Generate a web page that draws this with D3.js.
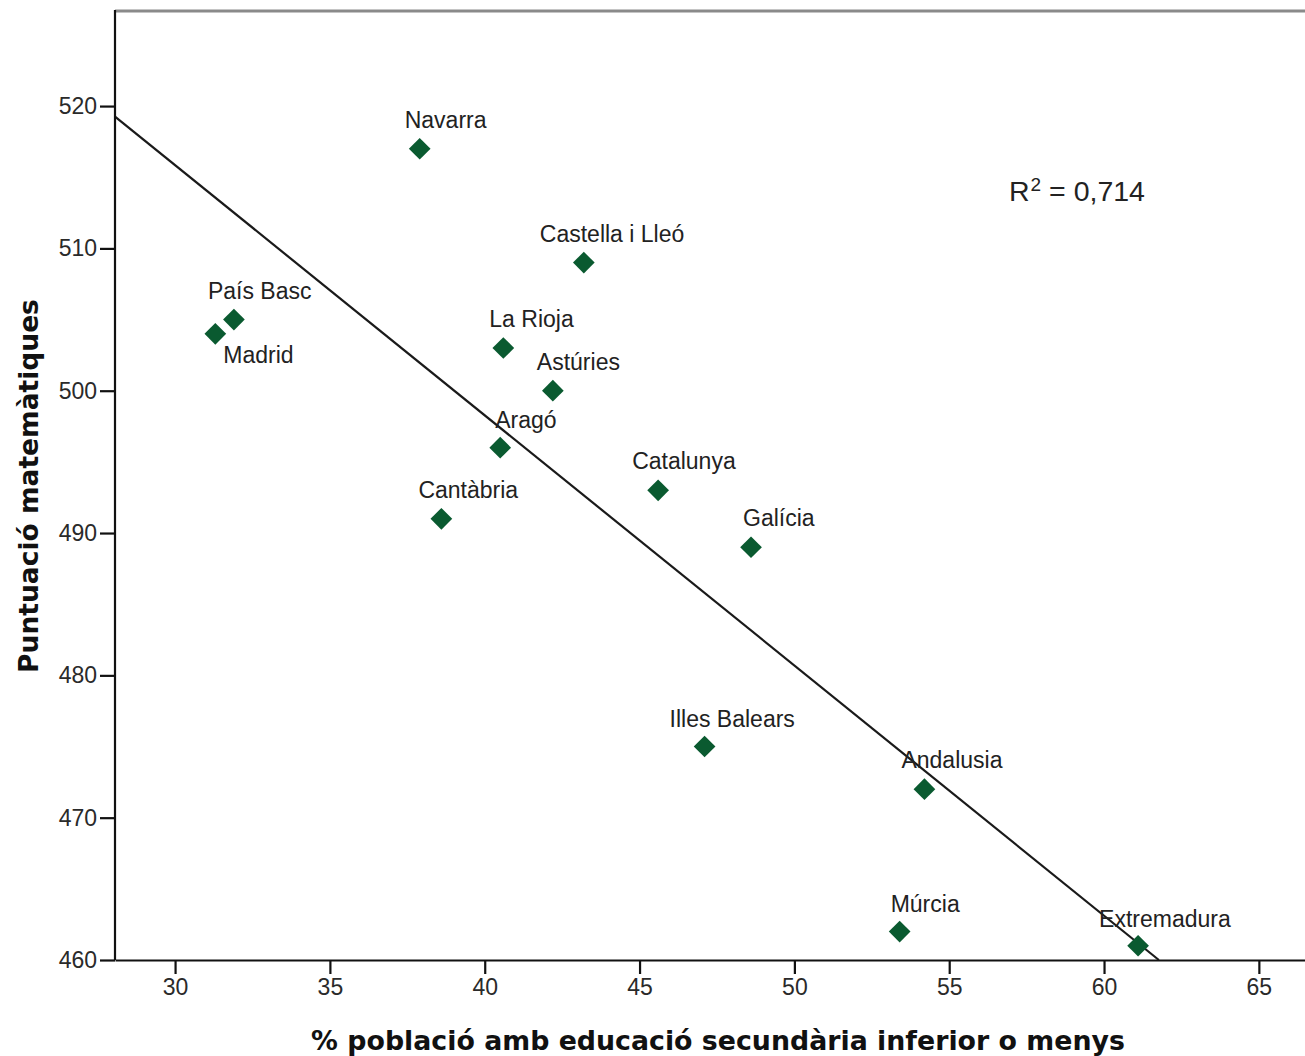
<!DOCTYPE html>
<html>
<head>
<meta charset="utf-8">
<script src="https://cdn.jsdelivr.net/npm/d3@7"></script>
<style>
  html, body { margin: 0; padding: 0; background: #fff; }
  svg { display: block; }
</style>
</head>
<body>
<svg id="chart" width="1305" height="1056"></svg>
<script>
// ---- data ----
const regions = ["Navarra", "Castella i Lleó", "País Basc", "Madrid", "La Rioja", "Astúries", "Aragó",
                 "Cantàbria", "Catalunya", "Galícia", "Illes Balears", "Andalusia", "Múrcia", "Extremadura"];
const pctLowEducation = [37.9, 43.2, 31.9, 31.3, 40.6, 42.2, 40.5, 38.6, 45.6, 48.6, 47.1, 54.2, 53.4, 61.1];
const mathScore = [517, 509, 505, 504, 503, 500, 496, 491, 493, 489, 475, 472, 462, 461];
const xTicks = [30, 35, 40, 45, 50, 55, 60, 65];
const yTicks = [460, 470, 480, 490, 500, 510, 520];
const r2Label = "0,714";

// label placement (pixel offsets from each marker: start x, baseline y)
const labelOffsets = [[-15, -21], [-44, -21], [-26, -21], [8, 29], [-14, -21], [-16, -21], [-5, -20],
                      [-23, -21], [-26, -21], [-8, -21], [-35, -20], [-23, -21], [-9, -20], [-39, -19]];

(function () {
// ---- layout ----
const mLeft = 115, mRight = 1305, mTop = 10, mBottom = 960;
const svg = d3.select("#chart");

const x = d3.scaleLinear().domain([28.06, 66.49]).range([mLeft, mRight]);
const y = d3.scaleLinear().domain([460, 526.75]).range([mBottom, mTop]);

// top frame line
svg.append("line")
  .attr("x1", mLeft).attr("x2", mRight).attr("y1", mTop + 1).attr("y2", mTop + 1)
  .attr("stroke", "#8a8a8a").attr("stroke-width", 3);

// regression (least squares)
const n = regions.length;
const mx = d3.mean(pctLowEducation), my = d3.mean(mathScore);
let sxy = 0, sxx = 0;
for (let i = 0; i < n; i++) {
  sxy += (pctLowEducation[i] - mx) * (mathScore[i] - my);
  sxx += (pctLowEducation[i] - mx) ** 2;
}
const slope = sxy / sxx, intercept = my - slope * mx;
const xStart = x.domain()[0];
const xEnd = (y.domain()[0] - intercept) / slope;

svg.append("line")
  .attr("x1", x(xStart)).attr("y1", y(intercept + slope * xStart))
  .attr("x2", x(xEnd)).attr("y2", y(intercept + slope * xEnd))
  .attr("stroke", "#1a1a1a").attr("stroke-width", 2.2);

// axes
const yAxis = d3.axisLeft(y).tickValues(yTicks).tickSize(15).tickPadding(3).tickSizeOuter(0);
const xAxis = d3.axisBottom(x).tickValues(xTicks).tickSize(14).tickPadding(5).tickSizeOuter(0);

const gy = svg.append("g").attr("transform", `translate(${mLeft},0)`).call(yAxis);
const gx = svg.append("g").attr("transform", `translate(0,${mBottom})`).call(xAxis);

[gx, gy].forEach(g => {
  g.select(".domain").attr("stroke", "#111").attr("stroke-width", 2.2);
  g.selectAll(".tick line").attr("stroke", "#111").attr("stroke-width", 2.2);
  g.selectAll(".tick text").attr("fill", "#2a2a2a")
    .style("font-family", "'Liberation Sans', Arial, sans-serif").style("font-size", "23px");
});
gy.select(".domain").attr("d", `M0,${mTop}V${mBottom}`);

// points
const diamond = d3.symbol().type(d3.symbolDiamond2).size(300);
const idx = d3.range(n);
svg.append("g").selectAll("path").data(idx).join("path")
  .attr("d", diamond)
  .attr("transform", i => `translate(${x(pctLowEducation[i])},${y(mathScore[i])})`)
  .attr("fill", "#0a5a30");

// labels
svg.append("g").selectAll("text").data(idx).join("text")
  .attr("x", i => x(pctLowEducation[i]) + labelOffsets[i][0])
  .attr("y", i => y(mathScore[i]) + labelOffsets[i][1])
  .attr("fill", "#222")
  .style("font-family", "'Liberation Sans', Arial, sans-serif").style("font-size", "23px")
  .text(i => regions[i]);

// R squared
const r2 = svg.append("text")
  .attr("x", 1009).attr("y", 201)
  .attr("fill", "#222")
  .style("font-family", "'Liberation Sans', Arial, sans-serif").style("font-size", "28.5px");
r2.append("tspan").text("R");
r2.append("tspan").attr("dx", 1).attr("dy", -10).style("font-size", "19px").text("2");
r2.append("tspan").attr("dy", 10).text(" = " + r2Label);

// axis titles
svg.append("text")
  .attr("x", 718).attr("y", 1050)
  .attr("text-anchor", "middle")
  .attr("fill", "#111")
  .style("font-family", "'DejaVu Sans', Verdana, sans-serif").style("font-weight", "bold").style("font-size", "26.8px")
  .text("% població amb educació secundària inferior o menys");

svg.append("text")
  .attr("transform", "translate(38,486) rotate(-90)")
  .attr("text-anchor", "middle")
  .attr("fill", "#111")
  .style("font-family", "'DejaVu Sans', Verdana, sans-serif").style("font-weight", "bold").style("font-size", "26.5px")
  .text("Puntuació matemàtiques");
})();
</script>
</body>
</html>
